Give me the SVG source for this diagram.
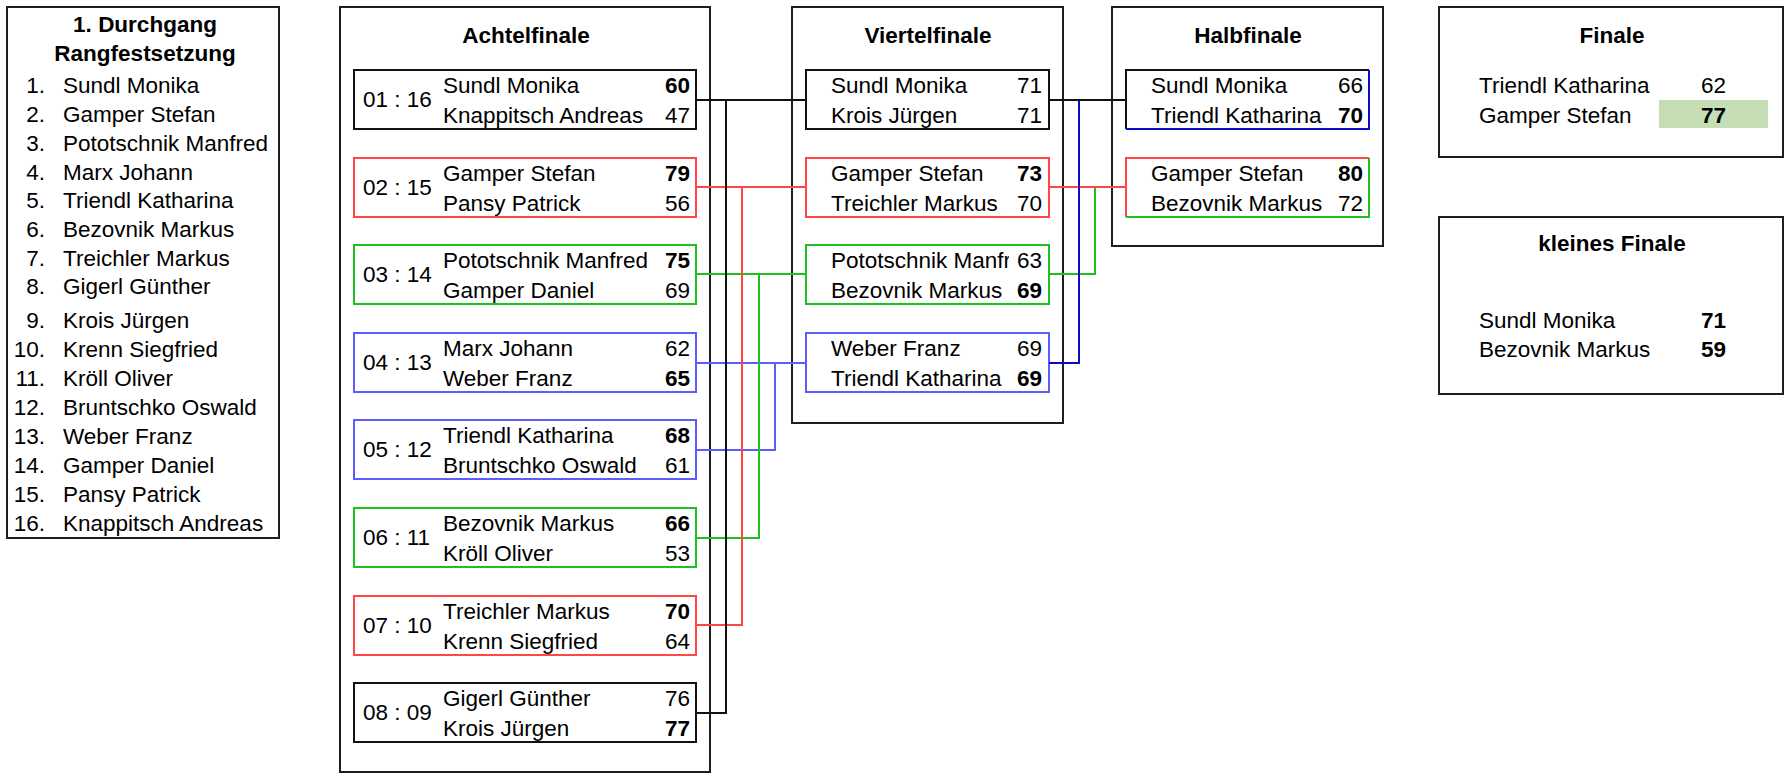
<svg xmlns="http://www.w3.org/2000/svg" width="1790" height="779" viewBox="0 0 1790 779">
<style>
text{font-family:"Liberation Sans",Arial,sans-serif;font-size:22.5px;fill:#000}
.b{font-weight:bold}
.t{font-weight:bold;text-anchor:middle}
.e{text-anchor:end}
.outer{fill:#fff;stroke:#1e1e1e;stroke-width:2}
.mb{fill:none;stroke-width:2}
.k{stroke:#111}
.r{stroke:#ff4747}
.g{stroke:#1ec21e}
.u{stroke:#5c5cff}
.d{stroke:#0a0ac8}
.c{fill:none;stroke-width:2}
</style>
<defs>
<clipPath id="clipName"><rect x="806" y="245" width="203" height="59"/></clipPath>
</defs>
<rect width="1790" height="779" fill="#fff"/>

<g id="rangliste">
<rect class="outer" x="7" y="7" width="272" height="531"/>
<text class="t" x="145" y="32">1. Durchgang</text>
<text class="t" x="145" y="61">Rangfestsetzung</text>
<g class="e">
<text class="e" x="45" y="93">1.</text>
<text class="e" x="45" y="122">2.</text>
<text class="e" x="45" y="151">3.</text>
<text class="e" x="45" y="180">4.</text>
<text class="e" x="45" y="208">5.</text>
<text class="e" x="45" y="237">6.</text>
<text class="e" x="45" y="266">7.</text>
<text class="e" x="45" y="294">8.</text>
<text class="e" x="45" y="328">9.</text>
<text class="e" x="45" y="357">10.</text>
<text class="e" x="45" y="386">11.</text>
<text class="e" x="45" y="415">12.</text>
<text class="e" x="45" y="444">13.</text>
<text class="e" x="45" y="473">14.</text>
<text class="e" x="45" y="502">15.</text>
<text class="e" x="45" y="531">16.</text>
</g>
<text x="63" y="93">Sundl Monika</text>
<text x="63" y="122">Gamper Stefan</text>
<text x="63" y="151">Pototschnik Manfred</text>
<text x="63" y="180">Marx Johann</text>
<text x="63" y="208">Triendl Katharina</text>
<text x="63" y="237">Bezovnik Markus</text>
<text x="63" y="266">Treichler Markus</text>
<text x="63" y="294">Gigerl Günther</text>
<text x="63" y="328">Krois Jürgen</text>
<text x="63" y="357">Krenn Siegfried</text>
<text x="63" y="386">Kröll Oliver</text>
<text x="63" y="415">Bruntschko Oswald</text>
<text x="63" y="444">Weber Franz</text>
<text x="63" y="473">Gamper Daniel</text>
<text x="63" y="502">Pansy Patrick</text>
<text x="63" y="531">Knappitsch Andreas</text>
</g>

<g id="achtelfinale">
<rect class="outer" x="340" y="7" width="370" height="765"/>
<text class="t" x="526" y="43">Achtelfinale</text>
</g>
<g id="af1">
<rect class="mb k" x="354" y="70" width="342" height="59"/>
<text x="363" y="107">01 : 16</text>
<text x="443" y="93">Sundl Monika</text><text class="e b" x="690" y="93">60</text>
<text x="443" y="123">Knappitsch Andreas</text><text class="e" x="690" y="123">47</text>
</g>
<g id="af2">
<rect class="mb r" x="354" y="158" width="342" height="59"/>
<text x="363" y="195">02 : 15</text>
<text x="443" y="181">Gamper Stefan</text><text class="e b" x="690" y="181">79</text>
<text x="443" y="211">Pansy Patrick</text><text class="e" x="690" y="211">56</text>
</g>
<g id="af3">
<rect class="mb g" x="354" y="245" width="342" height="59"/>
<text x="363" y="282">03 : 14</text>
<text x="443" y="268">Pototschnik Manfred</text><text class="e b" x="690" y="268">75</text>
<text x="443" y="298">Gamper Daniel</text><text class="e" x="690" y="298">69</text>
</g>
<g id="af4">
<rect class="mb u" x="354" y="333" width="342" height="59"/>
<text x="363" y="370">04 : 13</text>
<text x="443" y="356">Marx Johann</text><text class="e" x="690" y="356">62</text>
<text x="443" y="386">Weber Franz</text><text class="e b" x="690" y="386">65</text>
</g>
<g id="af5">
<rect class="mb u" x="354" y="420" width="342" height="59"/>
<text x="363" y="457">05 : 12</text>
<text x="443" y="443">Triendl Katharina</text><text class="e b" x="690" y="443">68</text>
<text x="443" y="473">Bruntschko Oswald</text><text class="e" x="690" y="473">61</text>
</g>
<g id="af6">
<rect class="mb g" x="354" y="508" width="342" height="59"/>
<text x="363" y="545">06 : 11</text>
<text x="443" y="531">Bezovnik Markus</text><text class="e b" x="690" y="531">66</text>
<text x="443" y="561">Kröll Oliver</text><text class="e" x="690" y="561">53</text>
</g>
<g id="af7">
<rect class="mb r" x="354" y="596" width="342" height="59"/>
<text x="363" y="633">07 : 10</text>
<text x="443" y="619">Treichler Markus</text><text class="e b" x="690" y="619">70</text>
<text x="443" y="649">Krenn Siegfried</text><text class="e" x="690" y="649">64</text>
</g>
<g id="af8">
<rect class="mb k" x="354" y="683" width="342" height="59"/>
<text x="363" y="720">08 : 09</text>
<text x="443" y="706">Gigerl Günther</text><text class="e" x="690" y="706">76</text>
<text x="443" y="736">Krois Jürgen</text><text class="e b" x="690" y="736">77</text>
</g>

<g id="viertelfinale">
<rect class="outer" x="792" y="7" width="271" height="416"/>
<text class="t" x="928" y="43">Viertelfinale</text>
</g>
<g id="vf1">
<rect class="mb k" x="806" y="70" width="243" height="59"/>
<text x="831" y="93">Sundl Monika</text><text class="e" x="1042" y="93">71</text>
<text x="831" y="123">Krois Jürgen</text><text class="e" x="1042" y="123">71</text>
</g>
<g id="vf2">
<rect class="mb r" x="806" y="158" width="243" height="59"/>
<text x="831" y="181">Gamper Stefan</text><text class="e b" x="1042" y="181">73</text>
<text x="831" y="211">Treichler Markus</text><text class="e" x="1042" y="211">70</text>
</g>
<g id="vf3">
<rect class="mb g" x="806" y="245" width="243" height="59"/>
<text x="831" y="268" clip-path="url(#clipName)">Pototschnik Manfr</text><text class="e" x="1042" y="268">63</text>
<text x="831" y="298">Bezovnik Markus</text><text class="e b" x="1042" y="298">69</text>
</g>
<g id="vf4">
<rect class="mb u" x="806" y="333" width="243" height="59"/>
<text x="831" y="356">Weber Franz</text><text class="e" x="1042" y="356">69</text>
<text x="831" y="386">Triendl Katharina</text><text class="e b" x="1042" y="386">69</text>
</g>

<g id="halbfinale">
<rect class="outer" x="1112" y="7" width="271" height="239"/>
<text class="t" x="1248" y="43">Halbfinale</text>
</g>
<g id="hf1">
<path class="c k" d="M1126,129 V70 H1369"/>
<path class="c d" d="M1369,70 V129 H1126"/>
<text x="1151" y="93">Sundl Monika</text><text class="e" x="1363" y="93">66</text>
<text x="1151" y="123">Triendl Katharina</text><text class="e b" x="1363" y="123">70</text>
</g>
<g id="hf2">
<path class="c r" d="M1126,217 V158 H1369"/>
<path class="c g" d="M1369,158 V217 H1126"/>
<text x="1151" y="181">Gamper Stefan</text><text class="e b" x="1363" y="181">80</text>
<text x="1151" y="211">Bezovnik Markus</text><text class="e" x="1363" y="211">72</text>
</g>

<g id="finale">
<rect class="outer" x="1439" y="7" width="344" height="150"/>
<text class="t" x="1612" y="43">Finale</text>
<rect x="1659" y="100" width="109" height="28" fill="#c5deb5"/>
<text x="1479" y="93">Triendl Katharina</text><text class="e" x="1726" y="93">62</text>
<text x="1479" y="123">Gamper Stefan</text><text class="e b" x="1726" y="123">77</text>
</g>

<g id="kleines-finale">
<rect class="outer" x="1439" y="217" width="344" height="177"/>
<text class="t" x="1612" y="251">kleines Finale</text>
<text x="1479" y="328">Sundl Monika</text><text class="e b" x="1726" y="328">71</text>
<text x="1479" y="357">Bezovnik Markus</text><text class="e b" x="1726" y="357">59</text>
</g>

<g id="connectors">
<path class="c u" d="M696,363 H806 M775,363 V450 H696"/>
<path class="c g" d="M696,274 H806 M759,274 V538 H696"/>
<path class="c r" d="M696,187 H806 M742,187 V625 H696"/>
<path class="c k" d="M696,100 H806 M726,100 V713 H696"/>
<path class="c g" d="M1049,274 H1095 V187"/>
<path class="c r" d="M1049,187 H1126"/>
<path class="c d" d="M1079,100 V363 H1049"/>
<path class="c k" d="M1049,100 H1126"/>
</g>
</svg>
